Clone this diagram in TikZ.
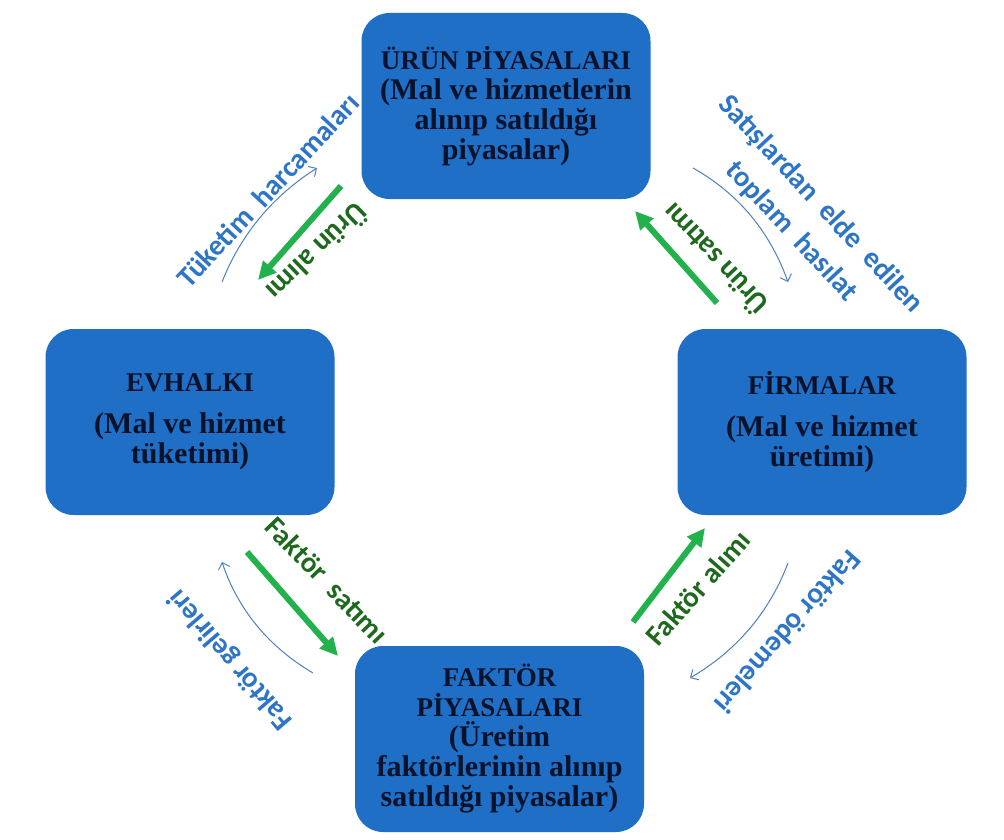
\documentclass[tikz,border=0pt]{standalone}
\usepackage{fontspec}
\setmainfont{Liberation Serif}
\newfontfamily\lblfont{Carlito}
\usetikzlibrary{arrows.meta}
\definecolor{boxblue}{RGB}{31,111,199}
\definecolor{boxtext}{RGB}{8,18,42}
\definecolor{lblue}{RGB}{46,117,200}
\definecolor{tblue}{RGB}{79,129,189}
\definecolor{agreen}{RGB}{34,177,76}
\definecolor{gtext}{RGB}{30,105,30}
\newcommand{\capsline}[1]{{\fontsize{27}{30}\selectfont\bfseries #1}}
\begin{document}
\begin{tikzpicture}[x=1pt,y=-1pt,
  box/.style={draw=none, fill=boxblue, rounded corners=28pt, minimum width=289pt, minimum height=186pt, align=center, text=boxtext, font=\fontsize{30}{30}\selectfont\bfseries, inner sep=0pt},
  lbl/.style={text=lblue, font=\lblfont\fontsize{29}{40}\selectfont\bfseries, inner sep=0pt, align=center},
  glbl/.style={text=gtext, font=\lblfont\fontsize{29}{36}\selectfont\bfseries, inner sep=0pt},
  garrow/.style={draw=agreen, line width=6pt, -{Triangle[length=18pt,width=17pt]}},
  tarrow/.style={draw=tblue, line width=1pt, -{Straight Barb[length=6pt,width=12pt]}}
]
\useasboundingbox[fill=white] (0,0) rectangle (1004,840);

% boxes
\node[box] (urun) at (506,106) {\capsline{ÜRÜN PİYASALARI}\\(Mal ve hizmetlerin\\alınıp satıldığı\\piyasalar)};
\node[box] (evhalki) at (190,422) {\capsline{EVHALKI}\\[12pt](Mal ve hizmet\\tüketimi)};
\node[box] (firma) at (822,422) {\capsline{FİRMALAR}\\[12pt](Mal ve hizmet\\üretimi)};
\node[box] (faktor) at (499.5,739) {\capsline{FAKTÖR}\\\capsline{PİYASALARI}\\(Üretim\\faktörlerinin alınıp\\satıldığı piyasalar)};

% green arrows
\coordinate (g1s) at (341,186); \coordinate (g1e) at (258,280);
\coordinate (g2s) at (717,303); \coordinate (g2e) at (635,211);
\coordinate (g3s) at (247,552); \coordinate (g3e) at (338,656);
\coordinate (g4s) at (633,622); \coordinate (g4e) at (705,528);
\draw[garrow] (g1s) -- (g1e);
\draw[garrow] (g2s) -- (g2e);
\draw[garrow] (g3s) -- (g3e);
\draw[garrow] (g4s) -- (g4e);

% thin curved arrows
\coordinate (t1s) at (222,282); \coordinate (t1e) at (317,168);
\coordinate (t2s) at (693,168); \coordinate (t2e) at (788,282);
\coordinate (t3s) at (313,673); \coordinate (t3e) at (222,562);
\coordinate (t4s) at (788,563); \coordinate (t4e) at (690,678);
\draw[tarrow] (t1s) .. controls (241,234) and (273,196) .. (t1e);
\draw[tarrow] (t2s) .. controls (739,194) and (770,232) .. (t2e);
\draw[tarrow] (t3s) .. controls (269,647) and (238,610) .. (t3e);
\draw[tarrow] (t4s) .. controls (769,613) and (736,651) .. (t4e);

% labels
\node[lbl, rotate=47] (l1) at (268,190) {Tüketim\ \ harcamaları};
\node[glbl, rotate=224] (l2) at (318,253) {Ürün alımı};
\node[glbl, rotate=133.5] (l3) at (714,260) {Ürün satımı};
\node[lbl, rotate=-47] (l4) at (806,218) {Satışlardan\ \ elde\ \ edilen\\toplam\ \ hasılat};
\node[glbl, rotate=-46] (l5) at (327,580) {Faktör\ \ satımı};
\node[lbl, rotate=130.7] (l6) at (231,659) {Faktör\ gelirleri};
\node[glbl, rotate=48.6] (l7) at (698,588) {Faktör\ alımı};
\node[lbl, rotate=228.6] (l8) at (788,632) {Faktör\ ödemeleri};
\end{tikzpicture}
\end{document}
